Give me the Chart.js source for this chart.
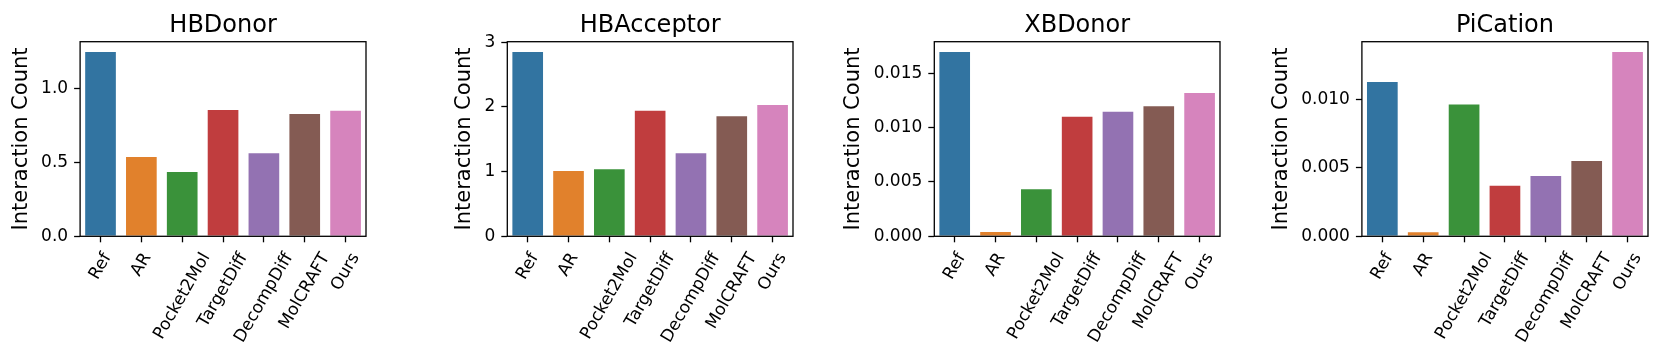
<!DOCTYPE html>
<html>
<head>
<meta charset="utf-8">
<script src="https://cdn.jsdelivr.net/npm/chart.js@4.4.1/dist/chart.umd.min.js"></script>
<style>
html, body { margin: 0; padding: 0; background: #fff; }
#wrap { position: relative; width: 1660px; height: 360px; overflow: hidden; }
#wrap canvas { position: absolute; top: 0; }
</style>
</head>
<body>
<div id="wrap"></div>
<script>
// ---- data ----
const categories = ['Ref', 'AR', 'Pocket2Mol', 'TargetDiff', 'DecompDiff', 'MolCRAFT', 'Ours'];

const hbDonor = [1.252, 0.543, 0.441, 0.860, 0.567, 0.833, 0.855];
const hbAcceptor = [2.864, 1.025, 1.051, 1.957, 1.298, 1.870, 2.045];
const xbDonor = [0.01705, 0.00049, 0.00442, 0.01110, 0.01156, 0.01206, 0.01328];
const piCation = [0.01137, 0.00037, 0.00971, 0.00378, 0.00449, 0.00559, 0.01356];

const hbDonorTicks = [0, 0.5, 1.0];
const hbDonorTickLabels = ['0.0', '0.5', '1.0'];
const hbAcceptorTicks = [0, 1, 2, 3];
const hbAcceptorTickLabels = ['0', '1', '2', '3'];
const xbDonorTicks = [0, 0.005, 0.010, 0.015];
const xbDonorTickLabels = ['0.000', '0.005', '0.010', '0.015'];
const piCationTicks = [0, 0.005, 0.010];
const piCationTickLabels = ['0.000', '0.005', '0.010'];

// seaborn-style desaturated tab10
const barColors = ['#3274a1', '#e1812c', '#3a923a', '#c03d3e', '#9372b2', '#845b53', '#d684bd'];

// ---- layout (page pixels) ----
const FONT = '"DejaVu Sans", sans-serif';
const TICK_SIZE = 17;
const LABEL_SIZE = 21;
const TITLE_SIZE = 24;
const PLOT_TOP = 41.7;
const PLOT_BOTTOM = 236.3;
const HEIGHT = 360;
const PAD_RIGHT = 10;

const panels = [
    { title: 'HBDonor', values: hbDonor, ticks: hbDonorTicks, tickLabels: hbDonorTickLabels, plotLeft: 80, plotRight: 365.7, labelX: 21.5 },
    { title: 'HBAcceptor', values: hbAcceptor, ticks: hbAcceptorTicks, tickLabels: hbAcceptorTickLabels, plotLeft: 507.7, plotRight: 792.7, labelX: 465 },
    { title: 'XBDonor', values: xbDonor, ticks: xbDonorTicks, tickLabels: xbDonorTickLabels, plotLeft: 934.7, plotRight: 1220, labelX: 854 },
    { title: 'PiCation', values: piCation, ticks: piCationTicks, tickLabels: piCationTickLabels, plotLeft: 1362, plotRight: 1647.3, labelX: 1281.7 },
];

// box around the axes, panel title, and matplotlib-like rotated category labels
const panelDecor = {
    id: 'panelDecor',
    afterDatasetsDraw(chart) {
        const { ctx, chartArea: a } = chart;
        ctx.save();
        ctx.strokeStyle = '#000';
        ctx.lineWidth = 1.3;
        ctx.strokeRect(a.left, a.top, a.right - a.left, a.bottom - a.top);
        ctx.restore();
    },
    afterDraw(chart, args, opts) {
        const { ctx, chartArea: a } = chart;
        const xScale = chart.scales.x;
        ctx.save();
        ctx.fillStyle = '#000';
        ctx.font = `${TITLE_SIZE}px ${FONT}`;
        ctx.textAlign = 'center';
        ctx.textBaseline = 'alphabetic';
        ctx.fillText(opts.title, (a.left + a.right) / 2, 31.7);

        // rotated 60deg, bounding box centred under the tick
        ctx.font = `${TICK_SIZE}px ${FONT}`;
        const ang = Math.PI / 3;
        const top = a.bottom + 14;
        xScale.getLabels().forEach((lab, i) => {
            const w = ctx.measureText(lab).width;
            const h = TICK_SIZE;
            const boxH = w * Math.sin(ang) + h * Math.cos(ang);
            ctx.save();
            ctx.translate(xScale.getPixelForValue(i), top + boxH / 2);
            ctx.rotate(-ang);
            ctx.textAlign = 'center';
            ctx.textBaseline = 'alphabetic';
            ctx.fillText(lab, 0, 0.26 * h);
            ctx.restore();
        });
        ctx.restore();
    }
};

function chartConfig(p, yAxisWidth) {
    return {
        type: 'bar',
        data: {
            labels: categories,
            datasets: [{
                data: p.values,
                backgroundColor: barColors,
                borderColor: 'rgba(255, 255, 255, 0.45)',
                borderWidth: 1,
                borderSkipped: 'bottom',
                barPercentage: 0.8,
                categoryPercentage: 1.0,
            }]
        },
        options: {
            responsive: false,
            animation: false,
            events: [],
            layout: { padding: { top: PLOT_TOP, right: PAD_RIGHT, left: 0, bottom: 0 } },
            plugins: {
                legend: { display: false },
                tooltip: { enabled: false },
                panelDecor: { title: p.title }
            },
            scales: {
                x: {
                    type: 'category',
                    offset: true,
                    grid: {
                        offset: false,
                        drawOnChartArea: false,
                        drawTicks: true,
                        tickLength: 6,
                        tickColor: '#000',
                        tickWidth: 1.3,
                    },
                    border: { display: false },
                    ticks: { display: false },
                    afterFit: s => { s.height = HEIGHT - PLOT_BOTTOM; }
                },
                y: {
                    min: 0,
                    max: Math.max(...p.values) * 1.05,
                    afterBuildTicks: s => { s.ticks = p.ticks.map(v => ({ value: v })); },
                    afterFit: s => { s.width = yAxisWidth; },
                    grid: {
                        drawOnChartArea: false,
                        drawTicks: true,
                        tickLength: 6,
                        tickColor: '#000',
                        tickWidth: 1.3,
                    },
                    border: { display: false },
                    ticks: {
                        color: '#000',
                        padding: 6,
                        font: { family: FONT, size: TICK_SIZE },
                        callback: (value, index) => p.tickLabels[index]
                    },
                    title: {
                        display: true,
                        text: 'Interaction Count',
                        color: '#000',
                        padding: { top: 0, bottom: 0 },
                        font: { family: FONT, size: LABEL_SIZE, lineHeight: 1.2 }
                    }
                }
            }
        },
        plugins: [panelDecor]
    };
}

function renderPanels() {
    const wrap = document.getElementById('wrap');
    panels.forEach(p => {
        // y title is centred lineHeight/2 in from the left edge of the axis box
        const yAxisWidth = p.plotLeft - p.labelX + LABEL_SIZE * 1.2 / 2;
        const left = p.plotLeft - yAxisWidth;
        const canvas = document.createElement('canvas');
        canvas.width = Math.ceil(p.plotRight - left + PAD_RIGHT);
        canvas.height = HEIGHT;
        canvas.style.left = left + 'px';
        wrap.appendChild(canvas);
        new Chart(canvas.getContext('2d'), chartConfig(p, yAxisWidth));
    });
}

renderPanels();
</script>
</body>
</html>
